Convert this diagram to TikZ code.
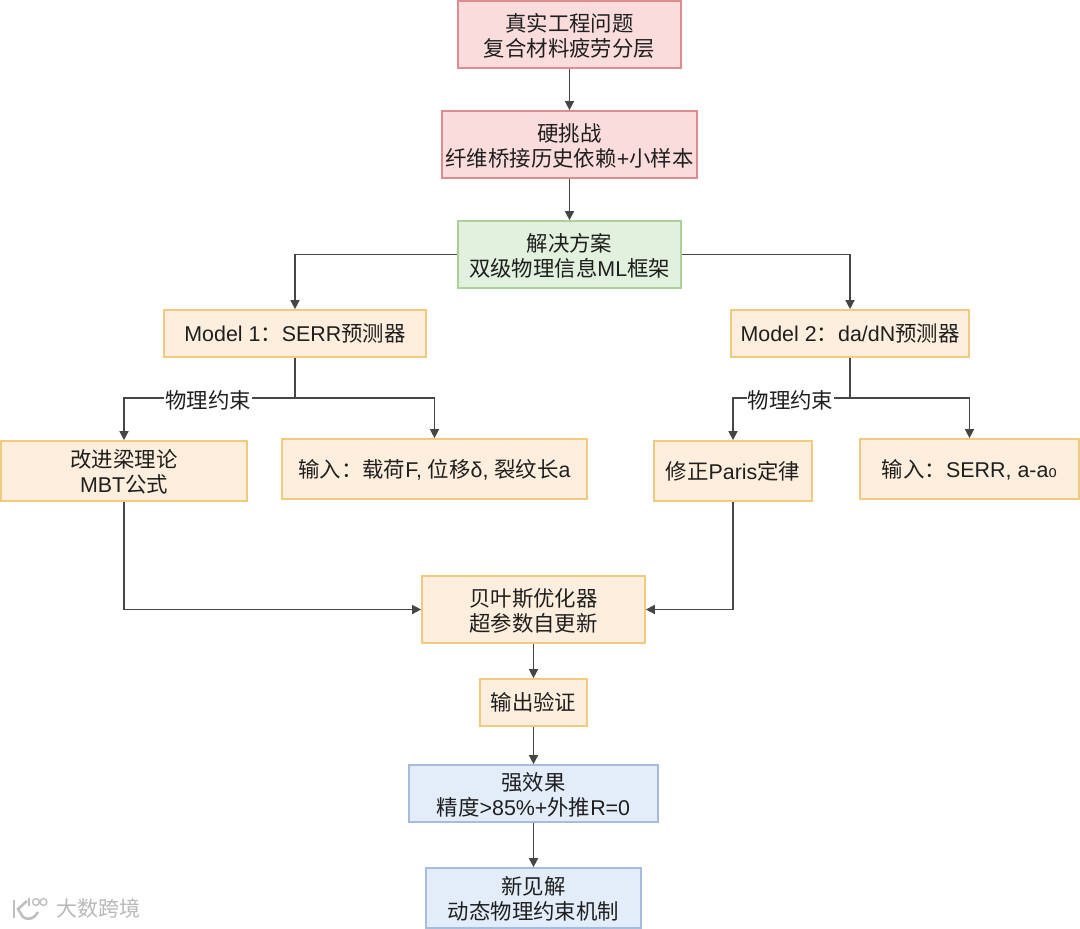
\documentclass[tikz,border=0pt]{standalone}
\usepackage{fontspec}
\usetikzlibrary{arrows.meta,positioning}
\setmainfont{Liberation Sans}
\newfontfamily\cjkfont{Noto Sans CJK SC}
\newfontfamily\subfont{DejaVu Sans}
\newcommand{\cj}[1]{{\cjkfont #1}}
\newcommand{\topline}{\rule{0pt}{20.5pt}}
\definecolor{pinkfill}{RGB}{250,220,220}
\definecolor{pinkline}{RGB}{222,140,140}
\definecolor{greenfill}{RGB}{226,240,222}
\definecolor{greenline}{RGB}{170,210,150}
\definecolor{orangefill}{RGB}{254,238,221}
\definecolor{orangeline}{RGB}{240,202,125}
\definecolor{bluefill}{RGB}{227,237,250}
\definecolor{blueline}{RGB}{165,188,222}
\definecolor{linkgray}{RGB}{70,70,70}
\tikzset{
  box/.style={draw,line width=1.7pt,align=center,inner sep=0pt,text=black!88,font=\fontsize{21.4}{25}\selectfont},
  pinkbox/.style={box,draw=pinkline,fill=pinkfill},
  greenbox/.style={box,draw=greenline,fill=greenfill},
  orangebox/.style={box,draw=orangeline,fill=orangefill},
  bluebox/.style={box,draw=blueline,fill=bluefill},
  link/.style={draw=linkgray,line width=1.5pt,-{Triangle[length=9pt,width=9pt]}},
  tag/.style={fill=white,inner sep=1pt,text=black!88,font=\fontsize{21.4}{25}\selectfont\cjkfont},
  logomark/.style={draw=black!25,line width=2.6pt}
}
\begin{document}
\begin{tikzpicture}[x=1pt,y=-1pt]
\useasboundingbox (0,0) rectangle (1080,929);
\node[pinkbox,minimum width=223pt,minimum height=67pt] (problem) at (569.5,34.5) {\topline\cj{真实工程问题}\\\cj{复合材料疲劳分层}};
\node[pinkbox,minimum width=255pt,minimum height=67pt] (hard) at (569.5,144.5) {\topline\cj{硬挑战}\\\cj{纤维桥接历史依赖}+\cj{小样本}};
\node[greenbox,minimum width=223pt,minimum height=67pt] (plan) at (569.5,254.5) {\topline\cj{解决方案}\\\cj{双级物理信息}ML\cj{框架}};
\node[orangebox,minimum width=262pt,minimum height=47pt] (model1) at (295,333.5) {Model 1\cj{：}SERR\cj{预测器}};
\node[orangebox,minimum width=238pt,minimum height=47pt] (model2) at (850,333.5) {Model 2\cj{：}da/dN\cj{预测器}};
\node[orangebox,minimum width=246pt,minimum height=60pt] (mbt) at (124,471) {\topline\cj{改进梁理论}\\MBT\cj{公式}};
\node[orangebox,minimum width=305pt,minimum height=60pt] (input1) at (434.5,469) {\topline\cj{输入：载荷}F, \cj{位移}δ, \cj{裂纹长}a};
\node[orangebox,minimum width=158pt,minimum height=60pt] (paris) at (733,471) {\cj{修正}Paris\cj{定律}};
\node[orangebox,minimum width=219pt,minimum height=60pt] (input2) at (969.5,469) {\topline\cj{输入：}SERR, a-a{\subfont ₀}};
\node[orangebox,minimum width=223pt,minimum height=67pt] (bayes) at (533.5,609.5) {\topline\cj{贝叶斯优化器}\\\cj{超参数自更新}};
\node[orangebox,minimum width=107pt,minimum height=47pt] (check) at (533.5,702.5) {\cj{输出验证}};
\node[bluebox,minimum width=249pt,minimum height=57pt] (effect) at (533.5,793.5) {\topline\cj{强效果}\\\cj{精度}>85\%+\cj{外推}R=0};
\node[bluebox,minimum width=215pt,minimum height=60pt] (insight) at (533.5,898) {\topline\cj{新见解}\\\cj{动态物理约束机制}};
\coordinate (fork1) at (295,398);
\coordinate (fork2) at (850,398);
\foreach \a/\b in {problem/hard,hard/plan,bayes/check,check/effect,effect/insight}
  \draw[link] (\a) -- (\b);
\draw[link] (plan.west) -| (model1.north);
\draw[link] (plan.east) -| (model2.north);
\draw[linkgray,line width=1.5pt] (model1.south) -- (fork1);
\draw[linkgray,line width=1.5pt] (model2.south) -- (fork2);
\draw[link] (fork1) -| (mbt.north);
\draw[link] (fork1) -| (input1.north);
\draw[link] (fork2) -| (paris.north);
\draw[link] (fork2) -| (input2.north);
\draw[link] (mbt.south) |- (bayes.west);
\draw[link] (paris.south) |- (bayes.east);
\node[tag] (tag1) at (208,400) {物理约束};
\node[tag] (tag2) at (790.5,400) {物理约束};
% watermark, bottom left
\node[font=\fontsize{21}{21}\selectfont\cjkfont,text=black!28,inner sep=0pt] (brand) at (98.5,908.5) {大数跨境};
\draw[logomark] (14,900) -- (14,918);
\draw[logomark] (27,901) -- (18,909) -- (23,917) .. controls (29,921) and (35,918) .. (38,912);
\draw[logomark,line width=1.4pt] (29,898) -- (29,906);
\draw[logomark,line width=1.4pt] (36,902) circle (3.4pt) (43.5,902) circle (3.4pt);
\end{tikzpicture}
\end{document}
